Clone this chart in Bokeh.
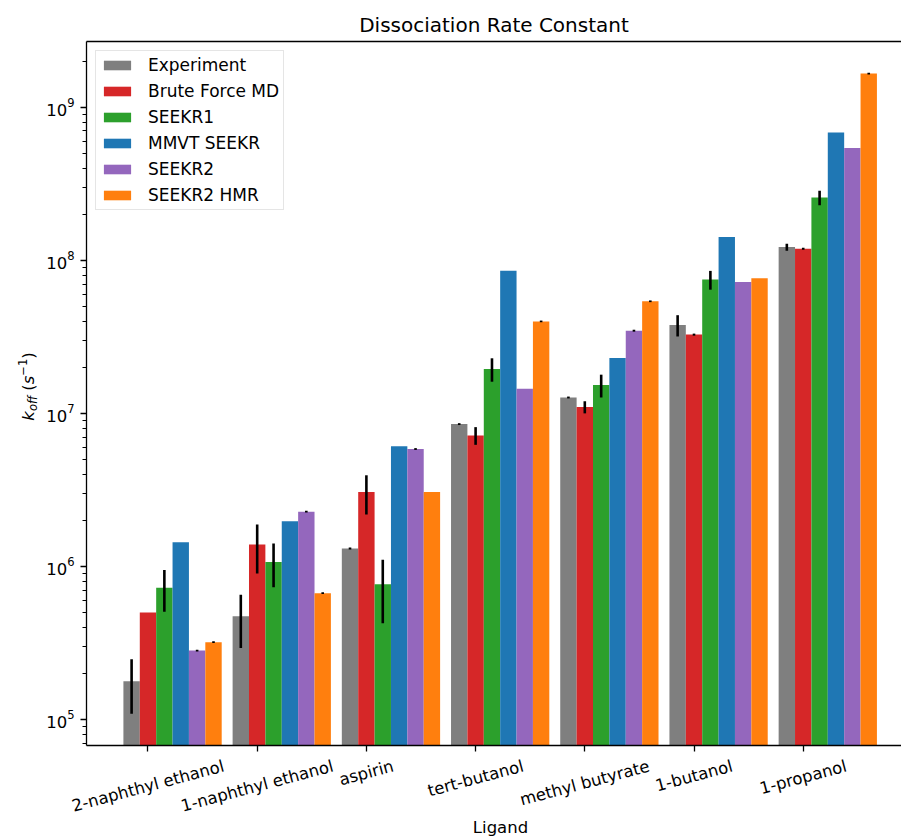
import numpy as np
from bokeh.plotting import figure
from bokeh.layouts import row, column
from bokeh.core.properties import value
from bokeh.models import (ColumnDataSource, Range1d, FixedTicker, LinearAxis, Label,
                          LabelSet, Legend, LegendItem, LogTicker)
from bokeh.embed import file_html
from bokeh.resources import INLINE

ligands = ["2-naphthyl ethanol", "1-naphthyl ethanol", "aspirin", "tert-butanol",
           "methyl butyrate", "1-butanol", "1-propanol"]
methods = ["Experiment", "Brute Force MD", "SEEKR1", "MMVT SEEKR", "SEEKR2", "SEEKR2 HMR"]
colors = ["#7f7f7f", "#d62728", "#2ca02c", "#1f77b4", "#9467bd", "#ff7f0e"]

experiment = [1.78e5, 4.73e5, 1.31e6, 8.51e6, 1.27e7, 3.78e7, 1.22e8]
experiment_err = [0.69e5, 1.8e5, 0.02e6, 0.12e6, 0.18e6, 0.6e7, 0.065e8]
brute_force = [5.0e5, 1.39e6, 3.06e6, 7.18e6, 1.10e7, 3.27e7, 1.19e8]
brute_force_err = [0.0, 0.49e6, 0.88e6, 0.95e6, 0.1e7, 0.05e7, 0.018e8]
seekr1 = [7.26e5, 1.07e6, 7.66e5, 1.95e7, 1.53e7, 7.48e7, 2.57e8]
seekr1_err = [2.2e5, 0.34e6, 0.34e6, 0.34e7, 0.26e7, 1.05e7, 0.28e8]
mmvt_seekr = [1.44e6, 1.97e6, 6.09e6, 8.56e7, 2.30e7, 1.42e8, 6.84e8]
mmvt_seekr_err = [0.0, 0.0, 0.0, 0.0, 0.0, 0.0, 0.0]
seekr2 = [2.82e5, 2.28e6, 5.85e6, 1.45e7, 3.47e7, 7.21e7, 5.42e8]
seekr2_err = [0.04e5, 0.03e6, 0.08e6, 0.0, 0.05e7, 0.0, 0.0]
seekr2_hmr = [3.2e5, 6.69e5, 3.06e6, 3.99e7, 5.40e7, 7.63e7, 1.66e9]
seekr2_hmr_err = [0.045e5, 0.09e5, 0.0, 0.05e7, 0.07e7, 0.0, 0.02e9]

series = [experiment, brute_force, seekr1, mmvt_seekr, seekr2, seekr2_hmr]
errors = [experiment_err, brute_force_err, seekr1_err, mmvt_seekr_err, seekr2_err, seekr2_hmr_err]

FONT = "DejaVu Sans"
bar_w = 0.15

# approximate DejaVu Sans advance widths (em) for placing rotated tick labels
CHAR_W = {"a": .613, "b": .635, "e": .615, "h": .634, "i": .278, "l": .278, "m": .974,
          "n": .634, "o": .612, "p": .635, "r": .411, "s": .521, "t": .392, "u": .634,
          "y": .592, "-": .361, " ": .318, "1": .636, "2": .636}

x_rng = Range1d(-0.563, 6.900)
y_rng = Range1d(6.76e4, 2.69e9)

# ---------------- main plot ----------------
p = figure(width=861, height=752, y_axis_type="log", output_backend="svg",
           toolbar_location=None, min_border_left=46, min_border_right=0,
           min_border_top=41, min_border_bottom=7,
           x_range=x_rng, y_range=y_rng)
p.background_fill_color = "white"
p.border_fill_color = "white"
p.outline_line_color = None
p.xgrid.visible = False
p.ygrid.visible = False

p.title.text = "Dissociation Rate Constant"
p.title.align = "center"
p.title.offset = 6.5
p.title.standoff = 9
p.title.text_font = FONT
p.title.text_font_size = "20px"
p.title.text_font_style = "normal"
p.title.text_color = "black"

xs = np.arange(len(ligands))
renderers = []
for k, (vals, errs, col) in enumerate(zip(series, errors, colors)):
    xpos = xs + (k - 1) * bar_w
    src = ColumnDataSource(dict(x=xpos, top=vals, bottom=[1.0] * len(vals)))
    r = p.vbar(x="x", top="top", bottom="bottom", width=bar_w, source=src,
               fill_color=col, line_color=None)
    renderers.append(r)
    ex, lo, hi = [], [], []
    for xi, v, e in zip(xpos, vals, errs):
        if e > 0:
            ex.append(xi)
            lo.append(v - e)
            hi.append(v + e)
    if ex:
        p.segment(x0=ex, y0=lo, x1=ex, y1=hi, line_color="black", line_width=2.6)

xa = p.xaxis[0]
xa.ticker = FixedTicker(ticks=list(range(len(ligands))))
xa.major_label_overrides = {i: "" for i in range(len(ligands))}
xa.major_label_text_font_size = "0px"
xa.major_label_standoff = 0
xa.minor_tick_line_color = None
xa.major_tick_in = 0
xa.major_tick_out = 6
xa.axis_line_width = 1.3
xa.major_tick_line_width = 1.3
xa.axis_line_color = "black"

ya = p.yaxis[0]
ya.ticker = LogTicker(num_minor_ticks=10)
ya.major_tick_in = 0
ya.major_tick_out = 6
ya.minor_tick_in = 0
ya.minor_tick_out = 4
ya.axis_line_width = 1.3
ya.major_tick_line_width = 1.3
ya.minor_tick_line_width = 1.0
ya.minor_tick_line_color = "black"
ya.axis_line_color = "black"
ya.major_label_text_font = FONT
ya.major_label_text_font_size = "16.5px"
ya.major_label_text_color = "black"
ya.major_label_standoff = 6

top_axis = LinearAxis(major_tick_line_color=None, minor_tick_line_color=None,
                      major_label_text_font_size="0px", axis_line_width=1.3,
                      axis_line_color="black", ticker=FixedTicker(ticks=[]))
p.add_layout(top_axis, "above")

legend = Legend(items=[LegendItem(label=m, renderers=[r]) for m, r in zip(methods, renderers)],
                location="top_left", margin=9, padding=4, spacing=6,
                glyph_width=34, glyph_height=12, label_height=20, label_standoff=14,
                label_text_font=FONT, label_text_font_size="17px", label_text_color="black",
                border_line_color="#cccccc", border_line_width=1,
                background_fill_alpha=0.8)
p.add_layout(legend)

# ---------------- y axis label: k_off (s^-1) ----------------
pl = figure(width=40, height=752, output_backend="svg", toolbar_location=None,
            min_border=0, x_range=Range1d(0, 1), y_range=Range1d(0, 1),
            x_axis_location=None, y_axis_location=None)
pl.outline_line_color = None
pl.grid.visible = False
dy = 752 - 839
ypieces = [("k", 28, 411.8, "16.5px", "italic"),
           ("off", 32, 421.4, "11.5px", "italic"),
           ("(", 28, 441.7, "16.5px", "normal"),
           ("s", 28, 448.2, "16.5px", "italic"),
           ("\u22121", 22, 456.8, "11.5px", "normal"),
           (")", 28, 473.8, "16.5px", "normal")]
for txt, px, py, fs, st in ypieces:
    pl.add_layout(Label(x=px, y=py + dy, x_units="screen", y_units="screen", text=txt,
                        angle=np.pi / 2, text_align="left", text_baseline="alphabetic",
                        text_font=FONT, text_font_size=fs, text_font_style=st,
                        text_color="black"))

# ---------------- x tick labels + x axis label (full-width strip) ----------------
px_per_unit = 815.0 / (x_rng.end - x_rng.start)
pb_start = x_rng.start - 86.0 / px_per_unit
pb = figure(width=901, height=87, output_backend="svg", toolbar_location=None,
            min_border=0, x_range=Range1d(pb_start, x_rng.end), y_range=Range1d(0, 1),
            x_axis_location=None, y_axis_location=None)
pb.outline_line_color = None
pb.grid.visible = False

fs_tick = 16.5
ang = np.deg2rad(15)
label_y = []
for t in ligands:
    w = sum(CHAR_W.get(c, 0.6) for c in t) * fs_tick
    bbox_h = w * np.sin(ang) + 1.164 * fs_tick * np.cos(ang)
    centre_from_top = 4.0 + bbox_h / 2.0  # rotated bbox top sits just under the ticks
    label_y.append(87.0 - centre_from_top)
lab_src = ColumnDataSource(dict(x=xs, y=label_y, text=ligands))
pb.add_layout(LabelSet(x="x", y="y", y_units="screen", text="text", source=lab_src,
                       angle=ang, text_align="center", text_baseline="middle",
                       text_font=value(FONT), text_font_size=value("16.5px"),
                       text_color="black"))
pb.add_layout(Label(x=500, y=12, x_units="screen", y_units="screen",
                    text="Ligand", text_align="center", text_baseline="middle",
                    text_font=FONT, text_font_size="16.5px", text_color="black"))

layout = column(row(pl, p), pb)
open("out.html", "w").write(file_html(layout, INLINE))
